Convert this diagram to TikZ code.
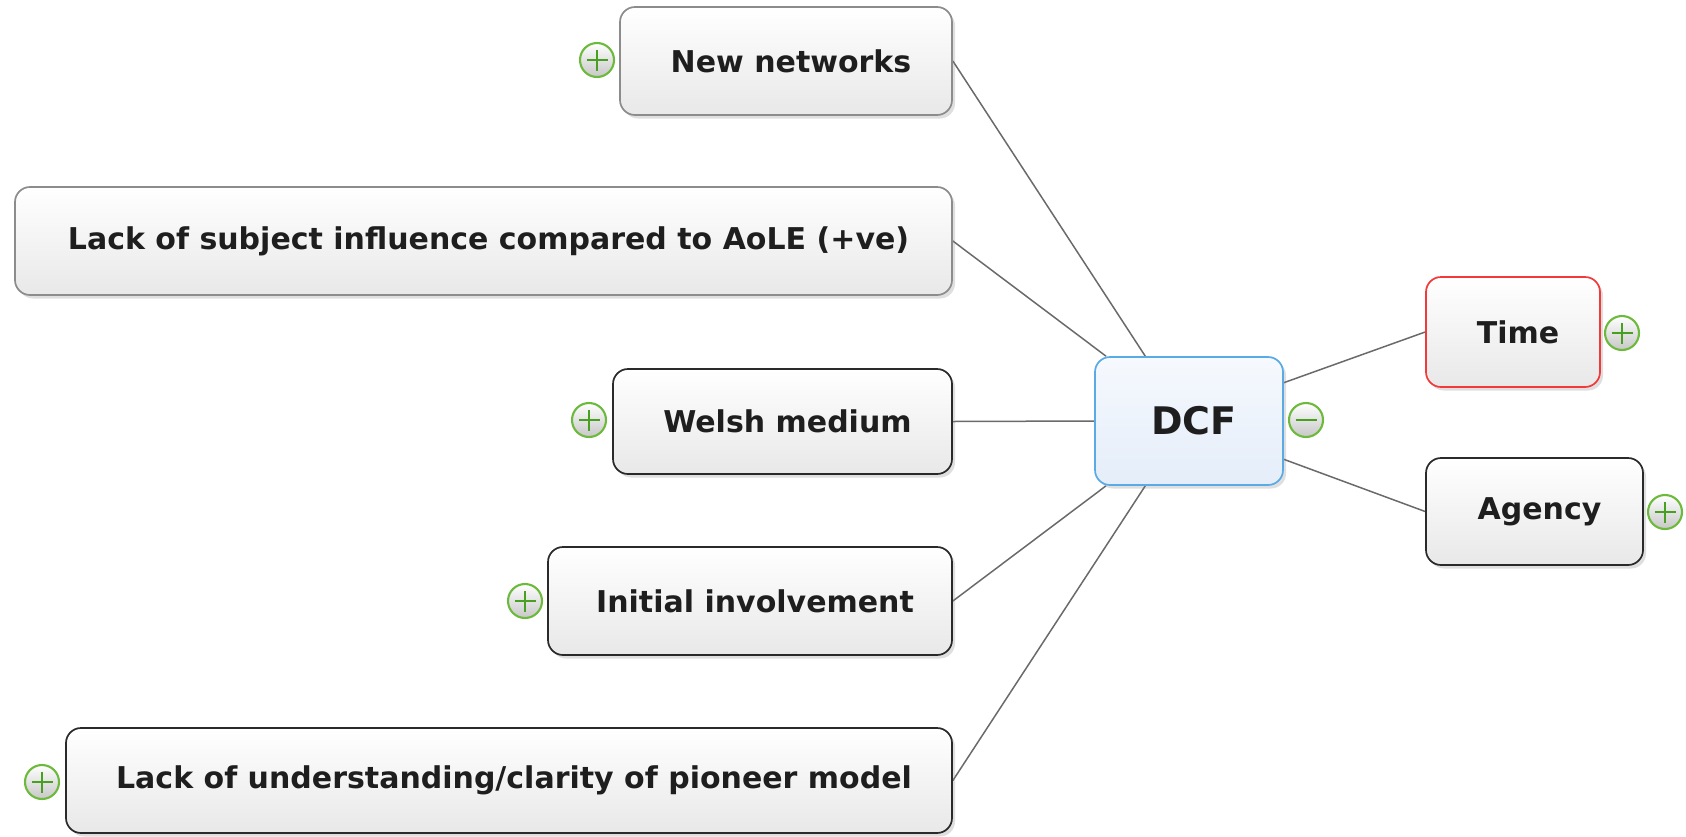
\documentclass[tikz,border=0pt]{standalone}
\usepackage{fontspec}
\setmainfont{DejaVu Sans}
\usetikzlibrary{shadows,backgrounds}
\definecolor{linegray}{HTML}{6A6A6A}
\definecolor{txt}{HTML}{1E1E1E}
\definecolor{bgray}{HTML}{8C8C8C}
\definecolor{bdark}{HTML}{2A2A2A}
\definecolor{bred}{HTML}{F23A3A}
\definecolor{bblue}{HTML}{5AAAE6}
\definecolor{dcftop}{HTML}{F6F9FE}
\definecolor{dcfbot}{HTML}{E4EDF9}
\definecolor{iconbd}{HTML}{6CBA3C}
\definecolor{iconpl}{HTML}{48A020}
\tikzset{
  box/.style={rounded corners=15, draw=bdark, line width=1.7, inner sep=0,
    top color=white, bottom color=black!9, text=txt,
    font=\fontsize{30}{36}\selectfont\bfseries,
    execute at begin node={\hspace*{10pt}},
    drop shadow={opacity=0.25, shadow xshift=3pt, shadow yshift=-3.5pt}},
  graybox/.style={box, draw=bgray},
  redbox/.style={box, draw=bred},
  bluebox/.style={box, draw=bblue, top color=dcftop, bottom color=dcfbot,
    font=\fontsize{38}{44}\selectfont\bfseries},
  conn/.style={draw=linegray, line width=1.5},
  icon/.style={circle, draw=iconbd, line width=2.1, minimum size=34, inner sep=0,
    top color=white, bottom color=black!22},
  plusicon/.style={icon, path picture={
    \draw[iconpl, line width=2.4]
      ([xshift=-10.5pt]path picture bounding box.center) -- ([xshift=10.5pt]path picture bounding box.center)
      ([yshift=-10.5pt]path picture bounding box.center) -- ([yshift=10.5pt]path picture bounding box.center);}},
  minusicon/.style={icon, path picture={
    \draw[iconpl, line width=2.4]
      ([xshift=-10.5pt]path picture bounding box.center) -- ([xshift=10.5pt]path picture bounding box.center);}},
}
\begin{document}
\begin{tikzpicture}[x=1pt,y=-1pt]
\useasboundingbox (0,0) rectangle (1686,836);

\node[graybox, minimum width=332, minimum height=108] (nn) at (786,61) {New networks};
\node[graybox, minimum width=937, minimum height=108] (ls) at (483.5,241) {Lack of subject influence compared to AoLE (+ve)};
\node[box, minimum width=339, minimum height=105] (wm) at (782.5,421.5) {Welsh medium};
\node[box, minimum width=404, minimum height=108] (ii) at (750,601) {Initial involvement};
\node[box, minimum width=886, minimum height=105] (lu) at (509,780.5) {Lack of understanding/clarity of pioneer model};
\node[bluebox, minimum width=188, minimum height=128] (dcf) at (1189,421) {DCF};
\node[redbox, minimum width=174, minimum height=110] (time) at (1513,332) {Time};
\node[box, minimum width=217, minimum height=107] (agency) at (1534.5,511.5) {Agency};

\node[plusicon] (pnn) at (597,60) {};
\node[plusicon] (pwm) at (589,420) {};
\node[plusicon] (pii) at (525,601) {};
\node[plusicon] (plu) at (42,782) {};
\node[minusicon] (mdcf) at (1306,420) {};
\node[plusicon] (ptime) at (1622,333) {};
\node[plusicon] (pag) at (1665,512) {};

\begin{pgfonlayer}{background}
\draw[conn] (nn.east) -- (dcf.124);
\draw[conn] (ls.east) -- (dcf.142);
\draw[conn] (wm.east) -- (dcf.west);
\draw[conn] (ii.east) -- (dcf.218);
\draw[conn] (lu.east) -- (dcf.236);
\draw[conn] (dcf.22) -- (time.west);
\draw[conn] (dcf.-22) -- (agency.west);
\end{pgfonlayer}
\end{tikzpicture}
\end{document}
